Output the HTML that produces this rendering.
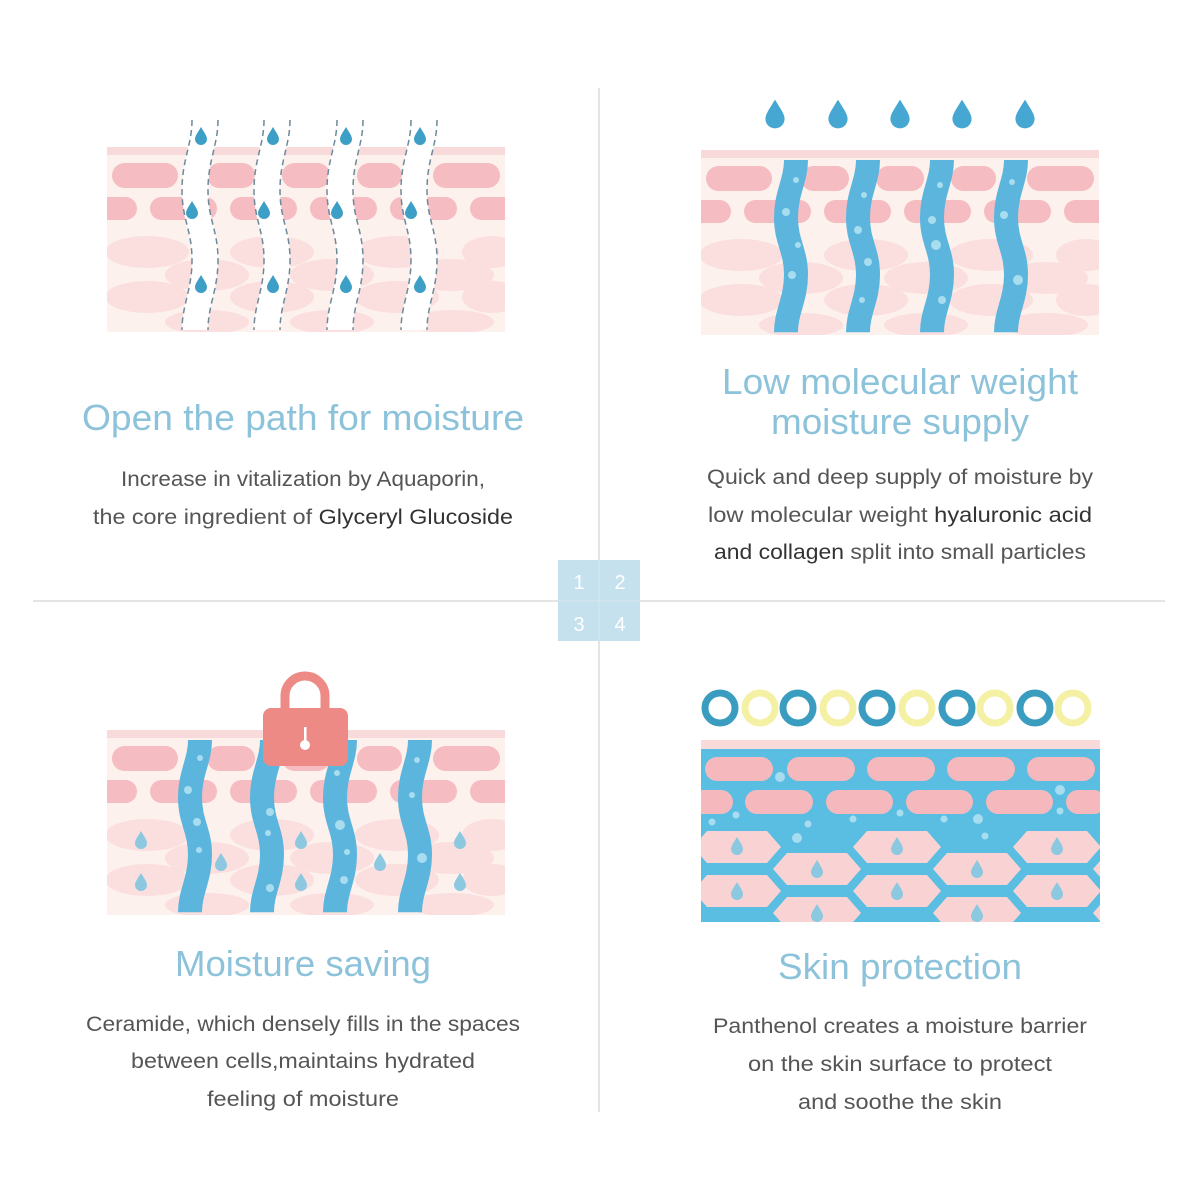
<!DOCTYPE html>
<html><head><meta charset="utf-8"><style>html,body{margin:0;padding:0;background:#fff}svg{display:block}</style></head><body>
<svg width="1200" height="1200" viewBox="0 0 1200 1200" xmlns="http://www.w3.org/2000/svg" font-family="Liberation Sans, sans-serif">
<defs>
<clipPath id="skc"><rect x="0" y="0" width="398" height="185"/></clipPath>
<clipPath id="p4c"><rect x="701" y="740" width="399" height="182"/></clipPath>
<g id="skin"><g clip-path="url(#skc)">
<rect x="0" y="0" width="398" height="185" fill="#fdf1ed"/>
<rect x="0" y="0" width="398" height="8" fill="#f9dada"/>
<g fill="#f5bcc2">
<rect x="5" y="16" width="66" height="25" rx="12.5"/><rect x="100" y="16" width="48" height="25" rx="12.5"/>
<rect x="175" y="16" width="48" height="25" rx="12.5"/><rect x="250" y="16" width="45" height="25" rx="12.5"/>
<rect x="326" y="16" width="67" height="25" rx="12.5"/>
<rect x="-10" y="50" width="40" height="23" rx="11.5"/><rect x="43" y="50" width="67" height="23" rx="11.5"/>
<rect x="123" y="50" width="67" height="23" rx="11.5"/><rect x="203" y="50" width="67" height="23" rx="11.5"/>
<rect x="283" y="50" width="67" height="23" rx="11.5"/><rect x="363" y="50" width="45" height="23" rx="11.5"/>
</g>
<g fill="#fbdede">
<ellipse cx="40" cy="105" rx="42" ry="16"/><ellipse cx="165" cy="105" rx="42" ry="16"/><ellipse cx="290" cy="105" rx="42" ry="16"/><ellipse cx="385" cy="105" rx="30" ry="16"/>
<ellipse cx="100" cy="128" rx="42" ry="16"/><ellipse cx="225" cy="128" rx="42" ry="16"/><ellipse cx="345" cy="128" rx="42" ry="16"/>
<ellipse cx="40" cy="150" rx="42" ry="16"/><ellipse cx="165" cy="150" rx="42" ry="16"/><ellipse cx="290" cy="150" rx="42" ry="16"/><ellipse cx="385" cy="150" rx="30" ry="16"/>
<ellipse cx="100" cy="175" rx="42" ry="12"/><ellipse cx="225" cy="175" rx="42" ry="12"/><ellipse cx="345" cy="175" rx="42" ry="12"/>
</g>
</g></g>
<path id="wave" d="M0 0 C0 25 -10 40 -10 70 C-10 100 0 110 0 140 C0 170 -10 185 -10 210"/>
<path id="drop" d="M0 -9 C3 -4 6 0 6 3 A6 6 0 0 1 -6 3 C-6 0 -3 -4 0 -9Z"/>
<path id="hx" d="M-44 0 L-30 -16 H30 L44 0 L30 16 H-30Z"/>
</defs>

<line x1="33" y1="601" x2="1165" y2="601" stroke="#dcdcdc" stroke-width="1.5"/>
<line x1="599" y1="88" x2="599" y2="1112" stroke="#dcdcdc" stroke-width="1.5"/>
<rect x="558" y="560" width="82" height="81" fill="#c6e1ee"/>
<line x1="599" y1="560" x2="599" y2="641" stroke="#d8e6ee" stroke-width="1"/>
<line x1="558" y1="601" x2="640" y2="601" stroke="#d8e6ee" stroke-width="1"/>
<g fill="#fff" font-size="20" text-anchor="middle"><text x="579" y="589">1</text><text x="620" y="589">2</text><text x="579" y="631">3</text><text x="620" y="631">4</text></g>

<!-- Panel 1 -->
<use href="#skin" transform="translate(107,147)"/>
<g fill="none">
<g transform="translate(205,120)"><use href="#wave" stroke="#fff" stroke-width="26"/><use href="#wave" transform="translate(-13,0)" stroke="#6d8a9a" stroke-width="1.5" stroke-dasharray="6,4"/><use href="#wave" transform="translate(13,0)" stroke="#6d8a9a" stroke-width="1.5" stroke-dasharray="6,4"/></g>
<g transform="translate(277,120)"><use href="#wave" stroke="#fff" stroke-width="26"/><use href="#wave" transform="translate(-13,0)" stroke="#6d8a9a" stroke-width="1.5" stroke-dasharray="6,4"/><use href="#wave" transform="translate(13,0)" stroke="#6d8a9a" stroke-width="1.5" stroke-dasharray="6,4"/></g>
<g transform="translate(350,120)"><use href="#wave" stroke="#fff" stroke-width="26"/><use href="#wave" transform="translate(-13,0)" stroke="#6d8a9a" stroke-width="1.5" stroke-dasharray="6,4"/><use href="#wave" transform="translate(13,0)" stroke="#6d8a9a" stroke-width="1.5" stroke-dasharray="6,4"/></g>
<g transform="translate(424,120)"><use href="#wave" stroke="#fff" stroke-width="26"/><use href="#wave" transform="translate(-13,0)" stroke="#6d8a9a" stroke-width="1.5" stroke-dasharray="6,4"/><use href="#wave" transform="translate(13,0)" stroke="#6d8a9a" stroke-width="1.5" stroke-dasharray="6,4"/></g>
</g>
<g fill="#3d9fc6">
<use href="#drop" x="201" y="136"/><use href="#drop" x="273" y="136"/><use href="#drop" x="346" y="136"/><use href="#drop" x="420" y="136"/>
<use href="#drop" x="192" y="210"/><use href="#drop" x="264" y="210"/><use href="#drop" x="337" y="210"/><use href="#drop" x="411" y="210"/>
<use href="#drop" x="201" y="284"/><use href="#drop" x="273" y="284"/><use href="#drop" x="346" y="284"/><use href="#drop" x="420" y="284"/>
</g>
<text x="303" y="430" font-size="36" fill="#8cc3da" text-anchor="middle" textLength="442" lengthAdjust="spacingAndGlyphs">Open the path for moisture</text>
<g font-size="21" fill="#555" text-anchor="middle">
<text x="303" y="486" textLength="364" lengthAdjust="spacingAndGlyphs">Increase in vitalization by Aquaporin,</text>
<text x="303" y="524" textLength="420" lengthAdjust="spacingAndGlyphs">the core ingredient of <tspan fill="#333">Glyceryl Glucoside</tspan></text>
</g>

<!-- Panel 2 -->
<use href="#skin" transform="translate(701,150)"/>
<g fill="none" stroke="#5cb5dd" stroke-width="24">
<use href="#wave" transform="translate(796,160) scale(1,0.82)"/>
<use href="#wave" transform="translate(868,160) scale(1,0.82)"/>
<use href="#wave" transform="translate(942,160) scale(1,0.82)"/>
<use href="#wave" transform="translate(1016,160) scale(1,0.82)"/>
</g>
<g fill="#a8ddf0">
<circle cx="796" cy="180" r="3"/><circle cx="786" cy="212" r="4"/><circle cx="798" cy="245" r="3"/><circle cx="792" cy="275" r="4"/>
<circle cx="864" cy="195" r="3"/><circle cx="858" cy="230" r="4"/><circle cx="868" cy="262" r="4"/><circle cx="862" cy="300" r="3"/>
<circle cx="940" cy="185" r="3"/><circle cx="932" cy="220" r="4"/><circle cx="936" cy="245" r="5"/><circle cx="942" cy="300" r="4"/>
<circle cx="1012" cy="182" r="3"/><circle cx="1004" cy="215" r="4"/><circle cx="1018" cy="280" r="5"/>
</g>
<g fill="#46a8d2">
<use href="#drop" transform="translate(775,114) scale(1.6)"/><use href="#drop" transform="translate(838,114) scale(1.6)"/><use href="#drop" transform="translate(900,114) scale(1.6)"/><use href="#drop" transform="translate(962,114) scale(1.6)"/><use href="#drop" transform="translate(1025,114) scale(1.6)"/>
</g>
<text x="900" y="394" font-size="36" fill="#8cc3da" text-anchor="middle" textLength="356" lengthAdjust="spacingAndGlyphs">Low molecular weight</text>
<text x="900" y="434" font-size="36" fill="#8cc3da" text-anchor="middle" textLength="258" lengthAdjust="spacingAndGlyphs">moisture supply</text>
<g font-size="21" fill="#555" text-anchor="middle">
<text x="900" y="484" textLength="386" lengthAdjust="spacingAndGlyphs">Quick and deep supply of moisture by</text>
<text x="900" y="522" textLength="384" lengthAdjust="spacingAndGlyphs">low molecular weight <tspan fill="#333">hyaluronic acid</tspan></text>
<text x="900" y="559" textLength="372" lengthAdjust="spacingAndGlyphs"><tspan fill="#333">and collagen</tspan> split into small particles</text>
</g>

<!-- Panel 3 -->
<use href="#skin" transform="translate(107,730)"/>
<g fill="#8cc8e0">
<use href="#drop" x="141" y="840"/><use href="#drop" x="301" y="840"/><use href="#drop" x="460" y="840"/>
<use href="#drop" x="221" y="862"/><use href="#drop" x="380" y="862"/>
<use href="#drop" x="141" y="882"/><use href="#drop" x="301" y="882"/><use href="#drop" x="460" y="882"/>
</g>
<g fill="none" stroke="#5cb5dd" stroke-width="24">
<use href="#wave" transform="translate(200,740) scale(1,0.82)"/>
<use href="#wave" transform="translate(272,740) scale(1,0.82)"/>
<use href="#wave" transform="translate(345,740) scale(1,0.82)"/>
<use href="#wave" transform="translate(420,740) scale(1,0.82)"/>
</g>
<g fill="#a8ddf0">
<circle cx="200" cy="758" r="3"/><circle cx="188" cy="790" r="4"/><circle cx="197" cy="822" r="4"/><circle cx="199" cy="850" r="3"/>
<circle cx="270" cy="812" r="4"/><circle cx="268" cy="833" r="3"/><circle cx="270" cy="888" r="4"/>
<circle cx="337" cy="773" r="3"/><circle cx="340" cy="825" r="5"/><circle cx="347" cy="852" r="3"/><circle cx="344" cy="880" r="4"/>
<circle cx="417" cy="760" r="3"/><circle cx="412" cy="795" r="3"/><circle cx="422" cy="858" r="5"/>
</g>
<path d="M285 708 V696 A20 20 0 0 1 325 696 V708" fill="none" stroke="#ee8a85" stroke-width="9"/>
<rect x="263" y="708" width="85" height="58" rx="8" fill="#ee8a85"/>
<circle cx="305" cy="745" r="5" fill="#fff"/><rect x="304" y="727" width="2.5" height="18" fill="#fff"/>
<text x="303" y="976" font-size="36" fill="#8cc3da" text-anchor="middle" textLength="256" lengthAdjust="spacingAndGlyphs">Moisture saving</text>
<g font-size="21" fill="#555" text-anchor="middle">
<text x="303" y="1031" textLength="434" lengthAdjust="spacingAndGlyphs">Ceramide, which densely fills in the spaces</text>
<text x="303" y="1068" textLength="344" lengthAdjust="spacingAndGlyphs">between cells,maintains hydrated</text>
<text x="303" y="1106" textLength="192" lengthAdjust="spacingAndGlyphs">feeling of moisture</text>
</g>

<!-- Panel 4 -->
<g fill="none" stroke-width="7">
<circle cx="720" cy="708" r="15" stroke="#3a9dc0"/><circle cx="760" cy="708" r="15" stroke="#f4f0a4"/>
<circle cx="798" cy="708" r="15" stroke="#3a9dc0"/><circle cx="838" cy="708" r="15" stroke="#f4f0a4"/>
<circle cx="877" cy="708" r="15" stroke="#3a9dc0"/><circle cx="917" cy="708" r="15" stroke="#f4f0a4"/>
<circle cx="957" cy="708" r="15" stroke="#3a9dc0"/><circle cx="995" cy="708" r="15" stroke="#f4f0a4"/>
<circle cx="1035" cy="708" r="15" stroke="#3a9dc0"/><circle cx="1073" cy="708" r="15" stroke="#f4f0a4"/>
</g>
<g clip-path="url(#p4c)">
<rect x="701" y="740" width="399" height="182" fill="#5abde2"/>
<rect x="701" y="740" width="399" height="9" fill="#f9dada"/>
<g fill="#f5b8bd">
<rect x="705" y="757" width="68" height="24" rx="12"/><rect x="787" y="757" width="68" height="24" rx="12"/><rect x="867" y="757" width="68" height="24" rx="12"/><rect x="947" y="757" width="68" height="24" rx="12"/><rect x="1027" y="757" width="68" height="24" rx="12"/>
<rect x="690" y="790" width="43" height="24" rx="12"/><rect x="745" y="790" width="68" height="24" rx="12"/><rect x="826" y="790" width="67" height="24" rx="12"/><rect x="906" y="790" width="67" height="24" rx="12"/><rect x="986" y="790" width="67" height="24" rx="12"/><rect x="1066" y="790" width="40" height="24" rx="12"/>
</g>
<g fill="#f9d3d3">
<use href="#hx" x="737" y="847"/><use href="#hx" x="897" y="847"/><use href="#hx" x="1057" y="847"/>
<use href="#hx" x="657" y="869"/><use href="#hx" x="817" y="869"/><use href="#hx" x="977" y="869"/><use href="#hx" x="1137" y="869"/>
<use href="#hx" x="737" y="891"/><use href="#hx" x="897" y="891"/><use href="#hx" x="1057" y="891"/>
<use href="#hx" x="657" y="913"/><use href="#hx" x="817" y="913"/><use href="#hx" x="977" y="913"/><use href="#hx" x="1137" y="913"/>
</g>
<g fill="#a8dcf0">
<circle cx="780" cy="777" r="5"/><circle cx="1060" cy="790" r="5"/><circle cx="712" cy="822" r="3.5"/><circle cx="736" cy="815" r="3.5"/><circle cx="808" cy="824" r="3.5"/><circle cx="797" cy="838" r="5"/><circle cx="853" cy="819" r="3.5"/><circle cx="900" cy="813" r="3.5"/><circle cx="944" cy="819" r="3.5"/><circle cx="978" cy="819" r="5"/><circle cx="985" cy="836" r="3.5"/><circle cx="1060" cy="811" r="3.5"/>
</g>
<g fill="#8cc8e0">
<use href="#drop" x="737" y="846"/><use href="#drop" x="897" y="846"/><use href="#drop" x="1057" y="846"/>
<use href="#drop" x="817" y="869"/><use href="#drop" x="977" y="869"/>
<use href="#drop" x="737" y="891"/><use href="#drop" x="897" y="891"/><use href="#drop" x="1057" y="891"/>
<use href="#drop" x="817" y="913"/><use href="#drop" x="977" y="913"/>
</g>
</g>
<text x="900" y="979" font-size="36" fill="#8cc3da" text-anchor="middle" textLength="244" lengthAdjust="spacingAndGlyphs">Skin protection</text>
<g font-size="21" fill="#555" text-anchor="middle">
<text x="900" y="1033" textLength="374" lengthAdjust="spacingAndGlyphs">Panthenol creates a moisture barrier</text>
<text x="900" y="1071" textLength="304" lengthAdjust="spacingAndGlyphs">on the skin surface to protect</text>
<text x="900" y="1109" textLength="204" lengthAdjust="spacingAndGlyphs">and soothe the skin</text>
</g>
</svg>
</body></html>
